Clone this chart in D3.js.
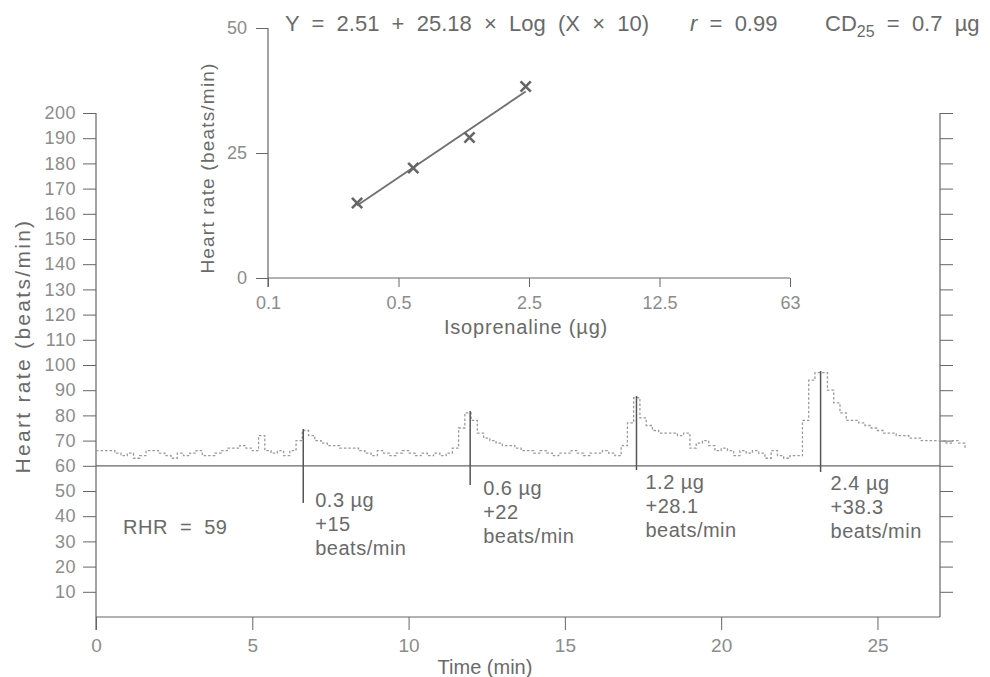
<!DOCTYPE html>
<html>
<head>
<meta charset="utf-8">
<script src="https://cdnjs.cloudflare.com/ajax/libs/d3/7.8.5/d3.min.js"></script>
<style>
  html, body { margin: 0; padding: 0; background: #fff; }
  svg { display: block; }
  text { font-family: "Liberation Sans", Arial, Helvetica, sans-serif; }
</style>
</head>
<body>
<svg id="chart" width="990" height="677"></svg>
<script>
// ---------------- DATA ----------------
const sampleStep = 0.2; // minutes between samples
const heartRate = [
  66,66,66,65,64,65,63,64,66,66,
  65,64,63,65,64,65,66,64,64,65,
  66,67,67,68,67,66,72,66,65,66,
  64,66,70,74,72,70,69,68,68,67,
  67,67,66,65,64,66,65,64,65,66,
  65,64,65,64,65,64,65,67,75,81,
  78,73,71,70,69,68,68,67,66,66,
  65,66,65,64,65,65,66,65,64,65,
  65,66,65,64,68,77,87,79,76,74,
  73,73,73,72,73,67,69,70,68,66,
  67,66,64,66,65,66,65,63,66,64,
  63,64,64,78,94,97,97,90,85,81,
  78,78,77,76,75,74,73,73,72,72,
  71,71,70,70,70,70,69,70,69,67
];
const restingLevel = 60;
const doseTimes = [6.63, 11.97, 17.29, 23.18];
const dosePeaks = [74.6, 81.7, 87.7, 97.6];
const doseLabels = ["0.3 \u00b5g", "0.6 \u00b5g", "1.2 \u00b5g", "2.4 \u00b5g"];
const doseIncreases = ["+15", "+22", "+28.1", "+38.3"];
const mainXTicks = [0, 5, 10, 15, 20, 25];
const mainYTicks = [10,20,30,40,50,60,70,80,90,100,110,120,130,140,150,160,170,180,190,200];

const insetDoses = [0.3, 0.6, 1.2, 2.4];
const insetIncreases = [15, 22, 28.1, 38.3];
const fitDoses = [0.3, 2.4];
const fitValues = [14.5, 37.3];
const insetXTicks = [0.1, 0.5, 2.5, 12.5, 62.5];
const insetXTickLabels = ["0.1", "0.5", "2.5", "12.5", "63"];
const insetYTicks = [0, 25, 50];

// ---------------- LAYOUT ----------------
const L = {
  main: { x0: 96, x1: 940, y0: 617, y1: 113 },
  inset: { x0: 268, x1: 790, y0: 278, y1: 28 },
  markerBottom: [503, 485, 470, 472],
  labelTop: [500, 488, 482, 483],
  labelDx: [12, 13, 9, 10],
  lineGap: 24
};
const ink = "#666";
const textCol = "#6a6a6a";
const tickCol = "#8c8c8c";

const svg = d3.select("#chart");

// ---------------- MAIN CHART ----------------
const x = d3.scaleLinear().domain([0, 27]).range([L.main.x0, L.main.x1]);
const y = d3.scaleLinear().domain([0, 200]).range([L.main.y0, L.main.y1]);

// left axis
const gLeft = svg.append("g").attr("transform", `translate(${L.main.x0},0)`)
  .call(d3.axisLeft(y).tickValues(mainYTicks).tickSize(13).tickPadding(7).tickSizeOuter(0));
gLeft.select(".domain").remove();
gLeft.selectAll(".tick line").attr("stroke", ink).attr("stroke-width", 1);
gLeft.selectAll(".tick text").attr("fill", tickCol).attr("font-size", 18)
  .attr("letter-spacing", 0.5).attr("font-weight", 300);
svg.append("line").attr("x1", L.main.x0).attr("x2", L.main.x0)
  .attr("y1", y(200)).attr("y2", L.main.y0 + 13).attr("stroke", ink).attr("stroke-width", 1.2);

// right axis
const gRight = svg.append("g").attr("transform", `translate(${L.main.x1},0)`)
  .call(d3.axisRight(y).tickValues(mainYTicks).tickSize(13).tickFormat(""));
gRight.select(".domain").remove();
gRight.selectAll(".tick line").attr("stroke", ink).attr("stroke-width", 1);
svg.append("line").attr("x1", L.main.x1).attr("x2", L.main.x1)
  .attr("y1", y(200)).attr("y2", L.main.y0).attr("stroke", ink).attr("stroke-width", 1.2);

// bottom axis
const gBottom = svg.append("g").attr("transform", `translate(0,${L.main.y0})`)
  .call(d3.axisBottom(x).tickValues(mainXTicks).tickSize(13).tickPadding(9));
gBottom.select(".domain").remove();
gBottom.selectAll(".tick line").attr("stroke", ink).attr("stroke-width", 1);
gBottom.selectAll(".tick text").attr("fill", tickCol).attr("font-size", 19)
  .attr("font-family", "'Liberation Sans Narrow', 'Liberation Sans', sans-serif")
  .attr("font-stretch", "condensed").attr("font-weight", 300);
svg.append("line").attr("x1", L.main.x0).attr("x2", L.main.x1)
  .attr("y1", L.main.y0).attr("y2", L.main.y0).attr("stroke", ink).attr("stroke-width", 1.2);

// resting line
svg.append("line").attr("x1", L.main.x0).attr("x2", L.main.x1)
  .attr("y1", y(restingLevel)).attr("y2", y(restingLevel))
  .attr("stroke", ink).attr("stroke-width", 1.2);

// trace
const traceData = heartRate.map((v, i) => [i * sampleStep, v]);
svg.append("path").datum(traceData)
  .attr("d", d3.line().x(d => x(d[0])).y(d => y(d[1])).curve(d3.curveStepAfter))
  .attr("fill", "none").attr("stroke", "#9a9a9a").attr("stroke-width", 1.3)
  .attr("stroke-dasharray", "2.5,2");

// dose markers & labels
doseTimes.forEach((t, i) => {
  svg.append("line").attr("x1", x(t)).attr("x2", x(t))
    .attr("y1", y(dosePeaks[i])).attr("y2", L.markerBottom[i])
    .attr("stroke", "#555").attr("stroke-width", 1.5);
  const tx = x(t) + L.labelDx[i];
  const lines = [doseLabels[i], doseIncreases[i], "beats/min"];
  lines.forEach((s, k) => {
    svg.append("text").attr("x", tx).attr("y", L.labelTop[i] + k * L.lineGap)
      .attr("dy", "0.36em").attr("font-size", 20).attr("fill", textCol)
      .attr("letter-spacing", 0.5).text(s);
  });
});

svg.append("text").attr("x", 123).attr("y", 527).attr("dy", "0.36em")
  .attr("font-size", 20).attr("fill", textCol).attr("letter-spacing", 0.5)
  .attr("xml:space", "preserve").text("RHR  =  59");

// axis titles
svg.append("text").attr("transform", `translate(22,${(215 + 477) / 2}) rotate(-90)`)
  .attr("text-anchor", "middle").attr("dy", "0.36em")
  .attr("font-size", 21).attr("fill", textCol).attr("letter-spacing", 2.3)
  .text("Heart rate (beats/min)");
svg.append("text").attr("x", 485).attr("y", 667).attr("dy", "0.36em")
  .attr("text-anchor", "middle").attr("font-size", 20).attr("fill", textCol)
  .attr("font-family", "'Liberation Sans Narrow', 'Liberation Sans', sans-serif")
  .attr("font-stretch", "condensed").text("Time (min)");

// ---------------- INSET ----------------
const xi = d3.scaleLog().domain([0.1, 62.5]).range([L.inset.x0, L.inset.x1]);
const yi = d3.scaleLinear().domain([0, 50]).range([L.inset.y0, L.inset.y1]);

const giL = svg.append("g").attr("transform", `translate(${L.inset.x0},0)`)
  .call(d3.axisLeft(yi).tickValues(insetYTicks).tickSize(12).tickPadding(9));
giL.select(".domain").remove();
giL.selectAll(".tick line").attr("stroke", ink);
giL.selectAll(".tick text").attr("fill", tickCol).attr("font-size", 18).attr("font-weight", 300);
svg.append("line").attr("x1", L.inset.x0).attr("x2", L.inset.x0)
  .attr("y1", yi(50)).attr("y2", yi(0) + 9).attr("stroke", ink).attr("stroke-width", 1.2);

const giB = svg.append("g").attr("transform", `translate(0,${L.inset.y0})`)
  .call(d3.axisBottom(xi).tickValues(insetXTicks).tickSize(9).tickPadding(9)
    .tickFormat((d, i) => insetXTickLabels[i]));
giB.select(".domain").remove();
giB.selectAll(".tick line").attr("stroke", ink);
giB.selectAll(".tick text").attr("fill", tickCol).attr("font-size", 18).attr("font-weight", 300);
svg.append("line").attr("x1", L.inset.x0).attr("x2", L.inset.x1)
  .attr("y1", L.inset.y0).attr("y2", L.inset.y0).attr("stroke", ink).attr("stroke-width", 1.2);

// fit line
svg.append("line").attr("x1", xi(fitDoses[0])).attr("y1", yi(fitValues[0]))
  .attr("x2", xi(fitDoses[1])).attr("y2", yi(fitValues[1]))
  .attr("stroke", "#707070").attr("stroke-width", 1.8);

// crosses
insetDoses.forEach((d, i) => {
  svg.append("path")
    .attr("d", d3.symbol().type(d3.symbolX).size(70)())
    .attr("transform", `translate(${xi(d)},${yi(insetIncreases[i])})`)
    .attr("fill", "none").attr("stroke", "#666").attr("stroke-width", 2.6);
});

svg.append("text").attr("transform", `translate(207,168) rotate(-90)`)
  .attr("text-anchor", "middle").attr("dy", "0.36em")
  .attr("font-size", 19).attr("fill", textCol).attr("letter-spacing", 1.2)
  .text("Heart rate (beats/min)");
svg.append("text").attr("x", 526).attr("y", 327).attr("dy", "0.36em")
  .attr("text-anchor", "middle").attr("font-size", 20).attr("fill", textCol)
  .attr("letter-spacing", 0.8).text("Isoprenaline (\u00b5g)");

// equation
svg.append("text").attr("x", 285).attr("y", 23).attr("dy", "0.36em")
  .attr("font-size", 22).attr("fill", textCol).attr("xml:space", "preserve")
  .text("Y  =  2.51  +  25.18  \u00d7  Log  (X  \u00d7  10)");
const rText = svg.append("text").attr("x", 690).attr("y", 23).attr("dy", "0.36em")
  .attr("font-size", 22).attr("fill", textCol).attr("xml:space", "preserve");
rText.append("tspan").attr("font-style", "italic").text("r");
rText.append("tspan").text("  =  0.99");
const cdText = svg.append("text").attr("x", 825).attr("y", 23).attr("dy", "0.36em")
  .attr("font-size", 22).attr("fill", textCol).attr("xml:space", "preserve");
cdText.append("tspan").text("CD");
cdText.append("tspan").attr("font-size", 16).attr("dy", 6).text("25");
cdText.append("tspan").attr("dy", -6).text("  =  0.7  \u00b5g");
</script>
</body>
</html>
